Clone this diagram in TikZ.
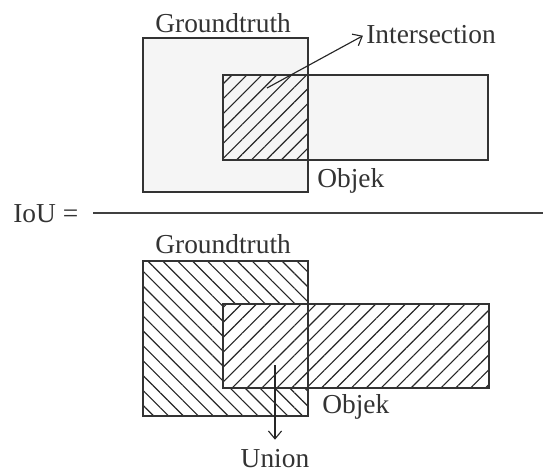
\documentclass[tikz,border=0pt]{standalone}
\usepackage{fontspec}
\setmainfont{Liberation Serif}
\usetikzlibrary{patterns.meta,arrows.meta,positioning}
\tikzset{
  box/.style={draw=black!80, line width=0.7pt},
  lbl/.style={inner sep=0pt, anchor=base west, font=\fontsize{15.6}{18}\selectfont, text=black!80},
  hatchne/.style={pattern={Lines[angle=45,distance=6pt,line width=0.65pt]}, pattern color=black!85},
  hatchnw/.style={pattern={Lines[angle=-45,distance=6pt,line width=0.65pt]}, pattern color=black!85},
  pointer/.style={draw=black!85, line width=0.65pt, -{Straight Barb[length=4.5pt,width=7.5pt]}},
}
\begin{document}
\begin{tikzpicture}[x=0.02cm,y=-0.02cm]
  \useasboundingbox (0,0) rectangle (543,471);
  % intersection (top)
  \draw[box,fill=black!4] (143,38) rectangle (308,192);
  \draw[box,fill=black!4] (223,75) rectangle (488,160);
  \fill[hatchne] (223,75) rectangle (308,160);
  \draw[box] (223,75) rectangle (308,160);
  \node[lbl] (gt1) at (155,32) {Groundtruth};
  \node[lbl] (inter) at (366,43) {Intersection};
  \node[lbl] (obj1) at (317,187) {Objek};
  \coordinate (c1) at (267,88);
  \draw[pointer, shorten >=2pt] (c1) -- (inter.west);
  % fraction
  \node[lbl] (iou) at (13,222) {IoU =};
  \coordinate (fracL) at (93,213);
  \coordinate (fracR) at (543,213);
  \draw[black!75, line width=0.6pt] (fracL) -- (fracR);
  % union (bottom)
  \draw[box,hatchnw] (143,261) rectangle (308,416);
  \draw[box,fill=white] (223,304) rectangle (489,388);
  \fill[hatchne] (223,304) rectangle (489,388);
  \draw[box] (223,304) rectangle (489,388);
  \draw[box] (143,261) rectangle (308,416);
  \node[lbl] (gt2) at (155,253) {Groundtruth};
  \node[lbl] (obj2) at (322,413) {Objek};
  \node[lbl, anchor=base] (union) at (275,467) {Union};
  \coordinate (c2) at (275,365);
  \draw[pointer, shorten >=5pt] (c2) -- (union.north);
\end{tikzpicture}
\end{document}
